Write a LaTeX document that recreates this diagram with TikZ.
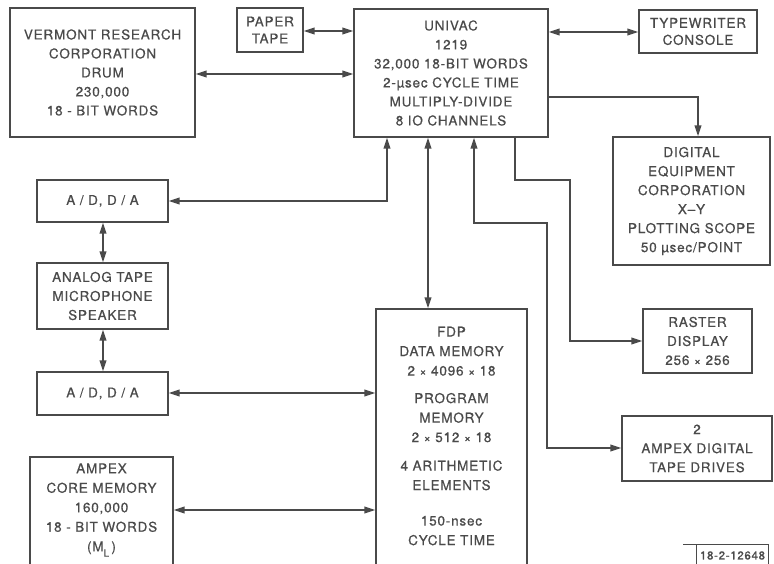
\documentclass[tikz,border=0pt]{standalone}
\usepackage{fontspec}
\setmainfont{TeX Gyre Heros}[LetterSpace=6,FakeBold=0.6]
\usetikzlibrary{arrows.meta,calc}
\definecolor{ink}{HTML}{4a4a4a}
\begin{document}
\begin{tikzpicture}[x=1pt,y=-1pt,
  box/.style={draw=ink, line width=1.2pt, text=ink, align=center, inner sep=0pt,
    font=\fontsize{13.5}{19}\selectfont},
  txt/.style={text=ink, align=center, inner sep=0pt, font=\fontsize{13.5}{19.5}\selectfont},
  conn/.style={draw=ink, line width=2pt},
  dar/.style={conn, {Triangle[length=11pt,width=6.5pt]}-{Triangle[length=11pt,width=6.5pt]}},
  sar/.style={conn, -{Triangle[length=11pt,width=6.5pt]}}]
\useasboundingbox (0,0) rectangle (774,564);
\clip (0,0) rectangle (774,564);
\fill[white] (0,0) rectangle (774,564);

\node[box, minimum width=185pt, minimum height=129pt] (drum) at (102.5,72.5)
  {VERMONT RESEARCH\\CORPORATION\\DRUM\\230,000\\18 - BIT WORDS};
\node[box, minimum width=66pt, minimum height=44pt, font=\fontsize{13.5}{17}\selectfont] (paper) at (270,30)
  {PAPER\\TAPE};
\node[box, minimum width=194pt, minimum height=128pt] (univac) at (451,73)
  {UNIVAC\\1219\\32,000 18-BIT WORDS\\2-µsec CYCLE TIME\\MULTIPLY-DIVIDE\\8 IO CHANNELS};
\node[box, minimum width=118pt, minimum height=43pt, font=\fontsize{13.5}{17}\selectfont] (tty) at (698,31.5)
  {TYPEWRITER\\CONSOLE};
\node[box, minimum width=157pt, minimum height=128pt] (dec) at (691.5,201)
  {DIGITAL\\EQUIPMENT\\CORPORATION\\X–Y\\PLOTTING SCOPE\\50 µsec/POINT};
\node[box, minimum width=131pt, minimum height=42pt] (adtop) at (102.5,201) {A / D, D / A};
\node[box, minimum width=131pt, minimum height=66pt] (analog) at (102.5,296)
  {ANALOG TAPE\\MICROPHONE\\SPEAKER};
\node[box, minimum width=131pt, minimum height=43pt] (adbot) at (102.5,393.5) {A / D, D / A};
\node[box, minimum width=143pt, minimum height=123pt] (core) at (101.5,518.5) {};
\node[txt] (coretext) at (101.5,510)
  {AMPEX\\CORE MEMORY\\160,000\\18 - BIT WORDS\\(M\raisebox{-0.4em}{\fontsize{10}{10}\selectfont L}\,)};
\node[box, minimum width=151pt, minimum height=271pt] (fdp) at (451.5,444.5) {};
\node[txt] (fdptext) at (451.5,436)
  {FDP\\DATA MEMORY\\2 {\large×} 4096 {\large×} 18\\[8pt]PROGRAM\\MEMORY\\2 {\large×} 512 {\large×} 18\\[9pt]4 ARITHMETIC\\ELEMENTS\\[16pt]150-nsec\\CYCLE TIME};
\node[box, minimum width=109pt, minimum height=64pt] (raster) at (697.5,341)
  {RASTER\\DISPLAY\\256 {\large×} 256};
\node[box, minimum width=150pt, minimum height=65pt] (tape) at (697,448.5)
  {2\\AMPEX DIGITAL\\TAPE DRIVES};
\node[draw=ink, line width=1pt, text=ink, anchor=north west, minimum width=72pt,
  minimum height=22pt, inner sep=0pt, font=\fontsize{11.5}{12}\selectfont] (tag) at (696,544) {18-2-12648};
\coordinate (tagtick) at (683,544);
\draw[ink, line width=1pt] (tagtick) -- (tag.north west);

% connectors
\draw[dar] (drum.east |- 0,74) -- (univac.west |- 0,74);
\draw[dar] (paper.east |- 0,31) -- (univac.west |- 0,31);
\draw[dar] (univac.east |- 0,32) -- (tty.west |- 0,32);
\draw[sar] (univac.east |- 0,97) -| ([xshift=6.5pt]dec.north);
\draw[dar] (adtop.east |- 0,201) -| ([xshift=-64pt]univac.south);
\draw[dar] ([xshift=-23pt]univac.south) -- ([xshift=-23pt]univac.south |- fdp.north);
\draw[dar] ([xshift=23pt]univac.south) -- ([xshift=23pt]univac.south |- 0,223) -- (547,223) -- (547,448) -- (tape.west |- 0,448);
\draw[sar] ([xshift=64pt]univac.south) -- ([xshift=64pt]univac.south |- 0,180) -- (570,180) -- (570,341) -- (raster.west);
\draw[dar] (adtop.south -| 103,0) -- (analog.north -| 103,0);
\draw[dar] (analog.south -| 103,0) -- (adbot.north -| 103,0);
\draw[dar] (adbot.east |- 0,393) -- (fdp.west |- 0,393);
\draw[dar] (core.east |- 0,510) -- (fdp.west |- 0,510);
\end{tikzpicture}
\end{document}
